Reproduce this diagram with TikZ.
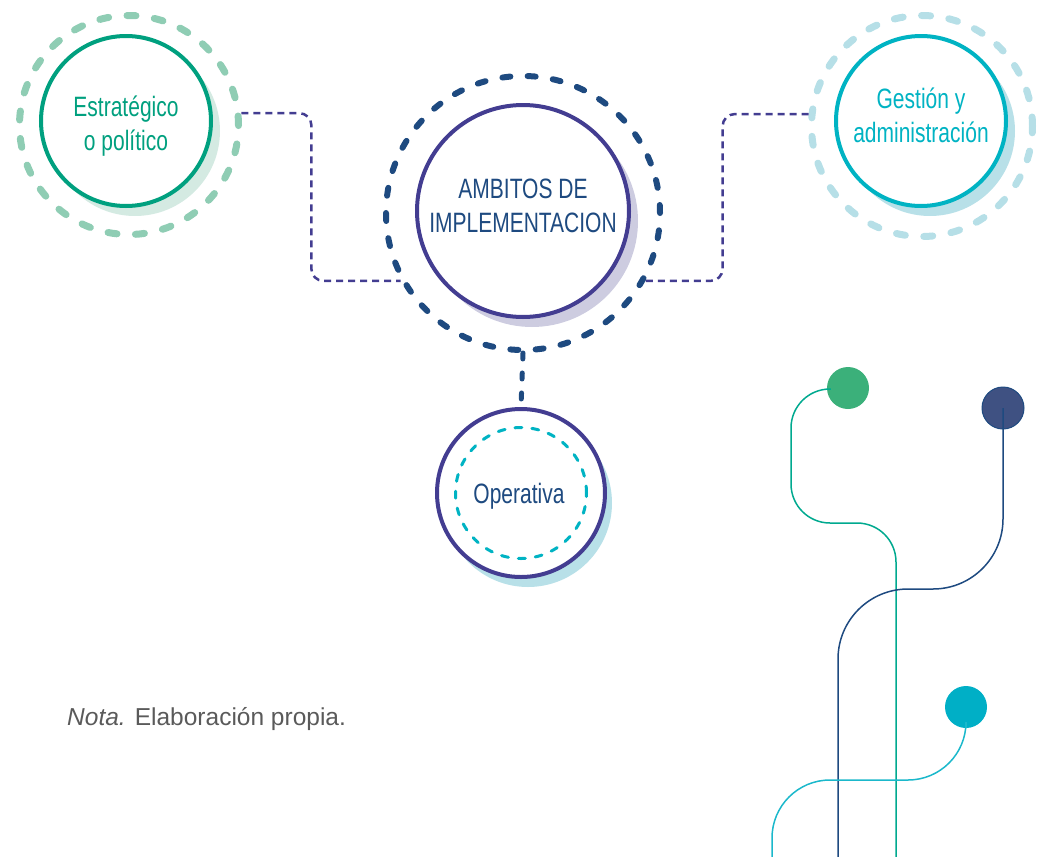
\documentclass[tikz,border=0pt]{standalone}
\usepackage{fontspec}
\usepackage{tikz}
\usetikzlibrary{positioning,calc}
\newfontfamily\condfont[FakeStretch=0.75]{Liberation Sans}
\newfontfamily\notafont{Liberation Sans}
\definecolor{estrgreen}{HTML}{00A07F}
\definecolor{ringgreen}{HTML}{8FCDB4}
\definecolor{shadegreen}{HTML}{D4EAE2}
\definecolor{ambblue}{HTML}{1E4A80}
\definecolor{purp}{HTML}{433D91}
\definecolor{shadelav}{HTML}{CDCCE0}
\definecolor{gestteal}{HTML}{00B3C3}
\definecolor{ringblue}{HTML}{B6DFE7}
\definecolor{shadeblue}{HTML}{B8E0E8}
\definecolor{dotgreen}{HTML}{3BB07A}
\definecolor{dotnavy}{HTML}{3F5182}
\definecolor{dotcyan}{HTML}{00AFC6}
\definecolor{linegreen}{HTML}{00A98F}
\definecolor{linecyan}{HTML}{1BB8CB}
\definecolor{notagray}{HTML}{5A5A5A}

\begin{document}
\begin{tikzpicture}[x=1pt,y=-1pt,
    inner node/.style={circle,draw,line width=4pt,fill=white,minimum size=#1,inner sep=0pt},
    label text/.style={anchor=base,inner sep=0pt,align=center,font=\condfont\fontsize{28}{34}\selectfont},
    ring node/.style={circle,draw,line width=7pt,line cap=round,dash pattern=on 9pt off 18.5pt,
        minimum size=#1,inner sep=0pt},
    shadow node/.style={circle,fill=#1,inner sep=0pt},
    link/.style={draw=purp,line width=2.5pt,dash pattern=on 7pt off 5pt,rounded corners=12pt},
    dot/.style={circle,fill=#1,minimum size=42,inner sep=0pt},
    wire/.style={line width=1.5pt,rounded corners=#1}]
\useasboundingbox (0,0) rectangle (1045,857);
%Nodes
    \node[ring node=219, draw=ringgreen] (estrRing) at (129,125) {};
    \node[shadow node=shadegreen, minimum size=170] at (135,131) {};
    \node[inner node=170, draw=estrgreen] (estr) at (126,121) {};
    \node[label text, text=estrgreen] (estrText) at (126,150) {Estratégico\\o político};

    \node[ring node=274, draw=ambblue, line width=6pt, dash pattern=on 8pt off 17.32pt] (ambRing) at (523,213) {};
    \node[shadow node=shadelav, minimum size=212] at (532,221) {};
    \node[inner node=212, draw=purp] (amb) at (523,211) {};
    \node[label text, text=ambblue] (ambText) at (523,232) {AMBITOS DE\\IMPLEMENTACION};

    \node[ring node=221, draw=ringblue] (gestRing) at (922,126) {};
    \node[shadow node=shadeblue, minimum size=170] at (930,131) {};
    \node[inner node=170, draw=gestteal] (gest) at (921,121) {};
    \node[label text, text=gestteal] (gestText) at (921,142) {Gestión y\\administración};

    \node[shadow node=shadeblue, minimum size=168] at (528,503) {};
    \node[inner node=168, draw=purp] (opera) at (521,493) {};
    \node[label text, text=ambblue] (operaText) at (519,503) {Operativa};
    \node[circle, draw=gestteal, line width=3pt, line cap=round, dash pattern=on 7pt off 10pt,
        minimum size=131, inner sep=0pt] (operaRing) at (521,493) {};

    \node[anchor=base west, inner sep=0pt, text=notagray, font=\notafont\fontsize{24.5}{28}\selectfont] (nota) at (67,725)
        {\textit{Nota.} Elaboración propia.};

%Connectors
    \draw[link] (estrRing.6) -- ++(70,0) |- (ambRing.209);
    \draw[link] (gestRing.174) -- ++(-86,0) |- (ambRing.-29);
    \draw[ambblue, line width=5pt, line cap=round, dash pattern=on 6pt off 14pt] (ambRing.south) -- (opera.north);

%Wires
    \node[dot=dotgreen] (gdot) at (848,388) {};
    \node[dot=dotnavy, draw=ambblue, line width=1pt] (ndot) at (1003,408) {};
    \node[dot=dotcyan] (cdot) at (966,707) {};
    \draw[wire=39pt, linegreen] ($(gdot.west)+(4,1)$) -| (791,523) -| (896,857);
    \draw[wire=70pt, ambblue] (ndot.center) |- (838,589) -- (838,857);
    \draw[wire=58pt, linecyan] (cdot.south) |- (772,780) -- (772,857);
\end{tikzpicture}
\end{document}
